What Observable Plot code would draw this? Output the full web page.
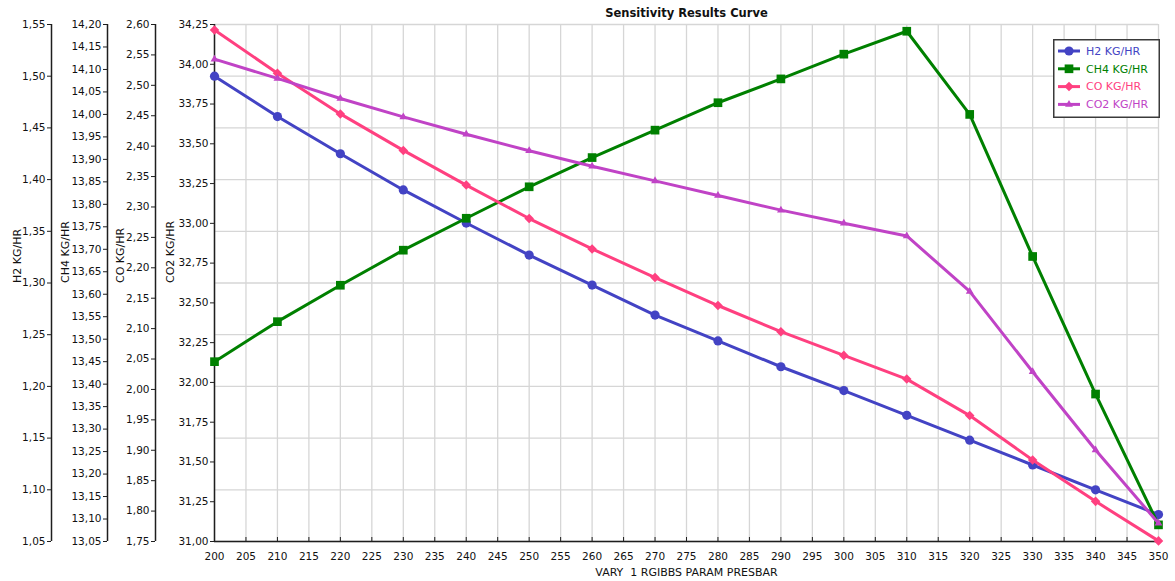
<!DOCTYPE html>
<html><head><meta charset="utf-8">
<script src="https://cdn.jsdelivr.net/npm/d3@7"></script>
<script src="https://cdn.jsdelivr.net/npm/@observablehq/plot@0.6"></script>
<style>
body{margin:0;background:#fff;}
#wrap{position:relative;width:1175px;height:581px;font-family:"DejaVu Sans",sans-serif;}
#legend{position:absolute;left:1053px;top:39px;}
</style></head><body><div id="wrap"></div>
<script>
// ---- data ----
const xValues   = [200,210,220,230,240,250,260,270,280,290,300,310,320,330,340,350];
const h2Values  = [1.500,1.461,1.425,1.390,1.358,1.327,1.298,1.269,1.244,1.219,1.196,1.172,1.148,1.124,1.100,1.076];
const ch4Values = [13.450,13.539,13.620,13.698,13.769,13.839,13.904,13.965,14.026,14.079,14.134,14.185,14.000,13.684,13.378,13.087];
const coValues  = [2.591,2.520,2.453,2.393,2.336,2.281,2.231,2.184,2.138,2.095,2.056,2.017,1.957,1.884,1.816,1.751];
const co2Values = [34.032,33.911,33.785,33.669,33.560,33.456,33.359,33.267,33.175,33.083,33.001,32.921,32.572,32.067,31.575,31.115];

const seriesNames   = ["H2 KG/HR","CH4 KG/HR","CO KG/HR","CO2 KG/HR"];
const seriesValues  = [h2Values, ch4Values, coValues, co2Values];
const seriesColors  = ["#4343C4","#008000","#FF4080","#C043C6"];
const seriesSymbols = ["circle","square","diamond2","triangle"];
const seriesR       = [4.6, 4.9, 4.3, 2.9];
const axisDomains   = [[1.05,1.55],[13.05,14.20],[1.75,2.60],[31.00,34.25]];
const axisSteps     = [0.05,0.05,0.05,0.25];
const xTicks        = d3.range(200, 351, 5);
const chartTitle    = "Sensitivity Results Curve";
const xLabel        = "VARY\u00a0 1 RGIBBS PARAM PRESBAR";

// ---- layout (pixels) ----
const W = 1175, H = 581;
const axisOffsets  = [-163, -107, -59, 0];
const titleOffsets = [-197, -149, -94, -44];
const gridColor = "#d6d6d6";
const axisColor = "#1e1e1e";

// every series is drawn against the first (H2) axis scale
const base = axisDomains[0];
const norm = (i, v) => { const [lo, hi] = axisDomains[i]; return base[0] + (v - lo) / (hi - lo) * (base[1] - base[0]); };
const unnorm = (i, v) => { const [lo, hi] = axisDomains[i]; return lo + (v - base[0]) / (base[1] - base[0]) * (hi - lo); };
const fmt = v => v.toFixed(2).replace(".", ",");
const axisTicks = axisDomains.map(([lo, hi], i) => {
  const n = Math.round((hi - lo) / axisSteps[i]);
  return d3.range(n + 1).map(k => lo + k * axisSteps[i]);
});

const marks = [];
marks.push(Plot.gridX(xTicks, {stroke: gridColor, strokeOpacity: 1, strokeWidth: 1.3}));
marks.push(Plot.gridY(axisTicks[0].map(t => norm(0, t)), {stroke: gridColor, strokeOpacity: 1, strokeWidth: 1.3}));

axisDomains.forEach((d, i) => {
  marks.push(Plot.axisY(axisTicks[i].map(t => norm(i, t)), {
    anchor: "left", tickSize: 4, tickPadding: 2, dx: axisOffsets[i],
    tickFormat: v => fmt(unnorm(i, v)), fontSize: 10.5, label: null, stroke: axisColor, fill: "#111"
  }));
  marks.push(Plot.ruleX([xValues[0]], {y1: base[0], y2: base[1], dx: axisOffsets[i], stroke: axisColor, strokeWidth: 1.5}));
  marks.push(Plot.text([seriesNames[i]], {frameAnchor: "left", rotate: -90, dx: titleOffsets[i], fontSize: 11, fill: "#111"}));
});

marks.push(Plot.ruleY([base[0]], {stroke: axisColor, strokeWidth: 1.5}));
marks.push(Plot.axisX(xTicks, {tickSize: 4, dy: -4, fill: "none", label: null, stroke: axisColor}));
marks.push(Plot.axisX(xTicks, {tickSize: 0, tickPadding: 11, fontSize: 10.5, label: null, tickFormat: d => String(d), fill: "#111"}));
marks.push(Plot.text([xLabel], {frameAnchor: "bottom", dy: 34, fontSize: 11, fill: "#111"}));
marks.push(Plot.text([chartTitle], {frameAnchor: "top", lineAnchor: "middle", dy: -11, fontSize: 11.5, fontWeight: "bold", fill: "#111"}));

seriesValues.forEach((vals, i) => {
  const rows = xValues.map((x, j) => ({x, v: vals[j], y: norm(i, vals[j])}));
  marks.push(Plot.line(rows, {x: "x", y: "y", stroke: seriesColors[i], strokeWidth: 3}));
  marks.push(Plot.dot(rows, {x: "x", y: "y", symbol: seriesSymbols[i], fill: seriesColors[i], stroke: "none", r: seriesR[i]}));
});

const chart = Plot.plot({
  width: W, height: H,
  marginTop: 24, marginBottom: 40, marginLeft: 214, marginRight: 17,
  style: {fontFamily: "DejaVu Sans", fontSize: "10.5px", background: "#fff", overflow: "visible"},
  x: {type: "linear", domain: [xValues[0], xValues[xValues.length - 1]]},
  y: {domain: base},
  marks
});
const wrap = document.getElementById("wrap");
wrap.appendChild(chart);

// ---- legend (inside plot, top right) ----
const symTypes = {circle: d3.symbolCircle, square: d3.symbolSquare, diamond2: d3.symbolDiamond2, triangle: d3.symbolTriangle};
const lg = d3.select(wrap).append("svg").attr("id", "legend").attr("width", 107).attr("height", 79)
  .style("font-family", "DejaVu Sans").style("font-size", "11px");
lg.append("rect").attr("x", 0.75).attr("y", 0.75).attr("width", 105.5).attr("height", 77.5)
  .attr("fill", "#fff").attr("stroke", "#3a3a3a").attr("stroke-width", 1.5);
seriesNames.forEach((name, i) => {
  const cy = 12 + i * 17.8;
  lg.append("line").attr("x1", 5).attr("x2", 27).attr("y1", cy).attr("y2", cy)
    .attr("stroke", seriesColors[i]).attr("stroke-width", 3);
  lg.append("path").attr("transform", `translate(16,${cy})`)
    .attr("d", d3.symbol(symTypes[seriesSymbols[i]], Math.PI * seriesR[i] * seriesR[i])())
    .attr("fill", seriesColors[i]);
  lg.append("text").attr("x", 33).attr("y", cy).attr("dy", "0.35em").attr("fill", seriesColors[i]).text(name);
});
</script></body></html>
